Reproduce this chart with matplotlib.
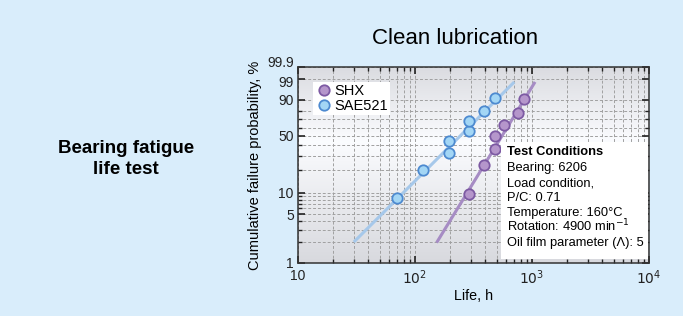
import numpy as np
import matplotlib
matplotlib.use("Agg")
import matplotlib.pyplot as plt
import matplotlib.transforms as mtransforms
from matplotlib.ticker import FixedLocator, FixedFormatter, NullFormatter

plt.rcParams['font.family'] = ['Liberation Sans', 'DejaVu Sans']

# Weibull plot data (life in hours, cumulative failure probability in %)
shx_life = [290, 389, 480, 480, 580, 759, 859]
shx_prob = [9.5, 23.0, 36.5, 50.0, 63.5, 77.0, 90.5]
sae_life = [70, 118, 194, 194, 288, 288, 389, 480]
sae_prob = [8.3, 20.2, 32.1, 44.0, 56.0, 67.9, 79.8, 91.7]

# fitted lines (end points)
shx_fit_life = [153, 1062]
shx_fit_prob = [1.96, 98.5]
sae_fit_life = [30, 706]
sae_fit_prob = [2.0, 98.5]

y_major = [1, 5, 10, 50, 90, 99, 99.9]
y_major_labels = ['1', '5', '10', '50', '90', '99', '99.9']
y_minor = [2, 3, 4, 6, 7, 8, 9, 20, 30, 40, 60, 70, 80]
x_major = [10, 100, 1000, 10000]
x_major_labels = ['10', '$10^2$', '$10^3$', '$10^4$']

conditions = ["Bearing: 6206", "Load condition,", "P/C: 0.71",
              "Temperature: 160\u00b0C", "Rotation: 4900 min$^{-1}$",
              "Oil film parameter (\u039b): 5"]

BG = '#d9edfb'
SHX_FACE, SHX_EDGE, SHX_LINE = '#b596cb', '#7d5aa3', '#a68cc4'
SAE_FACE, SAE_EDGE, SAE_LINE = '#a3d6f5', '#4d8ad0', '#a6c8ea'


def weibull(p):
    p = np.clip(np.asarray(p, dtype=float), 1e-6, 100 - 1e-6) / 100.0
    return np.log(-np.log(1 - p))


def weibull_inv(w):
    return 100.0 * (1 - np.exp(-np.exp(np.asarray(w, dtype=float))))


fig = plt.figure(figsize=(6.83, 3.16), dpi=100, facecolor=BG)
ax = fig.add_axes([298 / 683, 1 - 263 / 316, 351 / 683, 196 / 316])
ax.set_xscale('log')
ax.set_yscale('function', functions=(weibull, weibull_inv))
ax.set_xlim(10, 10000)
ax.set_ylim(1, 99.9)

# gradient background of the plot area
grad = np.interp(np.linspace(1, 0, 200), [0, 0.5, 0.62, 1.0], [0.86, 0.97, 1.0, 0.87])
cols = np.zeros((200, 1, 3))
cols[:, 0, 0] = grad * 0.985
cols[:, 0, 1] = grad * 0.99
cols[:, 0, 2] = grad * 1.0 + (1 - grad) * 0.08
cols = np.clip(cols, 0, 1)
ax.imshow(cols, extent=[0, 1, 0, 1], transform=ax.transAxes, aspect='auto', zorder=0)

ax.xaxis.set_major_locator(FixedLocator(x_major))
ax.xaxis.set_major_formatter(FixedFormatter(x_major_labels))
ax.yaxis.set_major_locator(FixedLocator(y_major))
ax.yaxis.set_major_formatter(FixedFormatter(y_major_labels))
ax.yaxis.set_minor_locator(FixedLocator(y_minor))
ax.yaxis.set_minor_formatter(NullFormatter())
ax.xaxis.set_minor_formatter(NullFormatter())

ax.grid(True, which='both', color='#a0a0a0', linestyle=(0, (3, 2)), linewidth=0.7, zorder=1)
ax.set_axisbelow(True)
ax.tick_params(which='both', direction='in', top=True, right=True, labelsize=10, colors='#222222')
ax.tick_params(which='major', length=5, width=1.2)
ax.tick_params(which='minor', length=3, width=1.0)
ax.tick_params(axis='x', pad=4)
ax.tick_params(axis='y', pad=3)
for s in ax.spines.values():
    s.set_color('#333333')
    s.set_linewidth(1.1)

# nudge the 99.9 / 99 labels apart, they sit very close on this scale
fig.canvas.draw()
for lab in ax.get_yticklabels():
    if lab.get_text() == '99.9':
        lab.set_transform(lab.get_transform() + mtransforms.ScaledTranslation(0, 4 / 72, fig.dpi_scale_trans))
    elif lab.get_text() == '99':
        lab.set_transform(lab.get_transform() + mtransforms.ScaledTranslation(0, -1.5 / 72, fig.dpi_scale_trans))

ax.plot(sae_fit_life, sae_fit_prob, color=SAE_LINE, lw=2.2, zorder=3, solid_capstyle='butt')
ax.plot(shx_fit_life, shx_fit_prob, color=SHX_LINE, lw=2.2, zorder=3, solid_capstyle='butt')
ax.plot(shx_life, shx_prob, 'o', ms=7.5, mfc=SHX_FACE, mec=SHX_EDGE, mew=1.3, zorder=4, label='SHX')
ax.plot(sae_life, sae_prob, 'o', ms=7.5, mfc=SAE_FACE, mec=SAE_EDGE, mew=1.3, zorder=4, label='SAE521')

leg = ax.legend(loc='upper left', bbox_to_anchor=(0.043, 0.925), fontsize=10.5, frameon=True,
                fancybox=False, handletextpad=0.1, borderpad=0.15, labelspacing=0.05,
                handlelength=1.2, borderaxespad=0)
leg.get_frame().set_facecolor('white')
leg.get_frame().set_edgecolor('none')
leg.get_frame().set_alpha(1)

# test conditions box
ax.add_patch(plt.Rectangle((0.577, 0.02), 0.42, 0.598, transform=ax.transAxes,
                           facecolor='white', edgecolor='none', zorder=5))
ax.text(0.595, 0.551, "Test Conditions", transform=ax.transAxes, fontsize=9.3,
        fontweight='bold', va='baseline', ha='left', zorder=6)
for i, line in enumerate(conditions):
    ax.text(0.595, 0.469 - i * 0.0768, line, transform=ax.transAxes, fontsize=9.3,
            va='baseline', ha='left', zorder=6)

ax.set_xlabel('Life, h', fontsize=10.3, labelpad=1)
ax.set_ylabel('Cumulative failure probability, %', fontsize=10.5, labelpad=4)

fig.text(455 / 683, 1 - 38 / 316, 'Clean lubrication', fontsize=16, ha='center', va='center')
fig.text(126 / 683, 1 - 159 / 316, 'Bearing fatigue\nlife test', fontsize=13.5,
         fontweight='bold', ha='center', va='center', linespacing=1.25)

fig.savefig('out.png', dpi=100, facecolor=BG)
